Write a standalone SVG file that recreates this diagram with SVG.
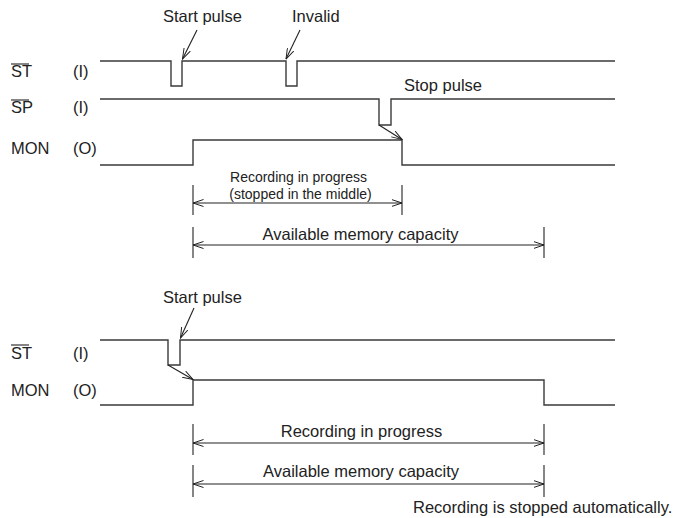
<svg xmlns="http://www.w3.org/2000/svg" width="675" height="518" viewBox="0 0 675 518">
<style>
text{font-family:"Liberation Sans",Arial,sans-serif;font-size:16.5px;fill:#222}
.sm{font-size:14px}
.mid{text-anchor:middle}
.sig{fill:none;stroke:#3a3a3a;stroke-width:1.4}
.ln{fill:none;stroke:#222;stroke-width:1.1}
.dim{fill:none;stroke:#222;stroke-width:1.1;marker-start:url(#ah);marker-end:url(#ah)}
.ptr{fill:none;stroke:#222;stroke-width:1.1;marker-end:url(#ah)}
</style>
<defs>
<marker id="ah" viewBox="0 0 11 8" refX="10.5" refY="4" markerWidth="11" markerHeight="8" markerUnits="userSpaceOnUse" orient="auto-start-reverse">
<path d="M0,0.5 L10.5,4 L0,7.5" fill="none" stroke="#222" stroke-width="1"/>
</marker>
</defs>
<rect width="675" height="518" fill="#fff"/>

<g id="top-labels">
<text x="11" y="77">ST</text><line class="ln" x1="11" y1="64" x2="29" y2="64"/>
<text x="73" y="77">(I)</text>
<text x="11" y="113">SP</text><line class="ln" x1="11" y1="100" x2="29" y2="100"/>
<text x="73" y="113">(I)</text>
<text x="11" y="154">MON</text>
<text x="73" y="154">(O)</text>
</g>

<g id="top-signals">
<path id="st1" class="sig" d="M100,61 H171 V86 H182 V61 H286 V86 H297 V61 H615"/>
<path id="sp1" class="sig" d="M100,99 H379 V125 H391 V99 H615"/>
<path id="mon1" class="sig" d="M100,165 H193 V140 H402 V165 H615"/>
</g>

<g id="top-annotations">
<text x="163" y="22">Start pulse</text>
<text x="292" y="22">Invalid</text>
<text x="404" y="91">Stop pulse</text>
<text class="sm mid" x="298.5" y="182">Recording in progress</text>
<text class="sm mid" x="300.5" y="199">(stopped in the middle)</text>
<text class="mid" x="360.5" y="240">Available memory capacity</text>
</g>

<g id="bottom-labels">
<text x="11" y="359">ST</text><line class="ln" x1="11" y1="345" x2="29" y2="345"/>
<text x="73" y="359">(I)</text>
<text x="11" y="396">MON</text>
<text x="73" y="396">(O)</text>
</g>

<g id="bottom-signals">
<path id="st2" class="sig" d="M100,340 H168 V365 H180 V340 H615"/>
<path id="mon2" class="sig" d="M100,405 H193 V380 H544 V405 H615"/>
</g>

<g id="bottom-annotations">
<text x="163" y="303">Start pulse</text>
<text class="mid" x="361.5" y="437">Recording in progress</text>
<text class="mid" x="361" y="477">Available memory capacity</text>
<text x="413" y="513">Recording is stopped automatically.</text>
</g>

<g id="connectors">
<line class="ptr" x1="197" y1="30" x2="182.5" y2="59"/>
<line class="ptr" x1="300" y1="30" x2="286" y2="59"/>
<line class="ptr" x1="379" y1="125" x2="402" y2="139.5"/>
<line class="dim" x1="193" y1="203" x2="402" y2="203"/>
<line class="ln" x1="193" y1="185" x2="193" y2="215"/>
<line class="ln" x1="402" y1="185" x2="402" y2="215"/>
<line class="dim" x1="193" y1="245" x2="544" y2="245"/>
<line class="ln" x1="193" y1="227" x2="193" y2="258"/>
<line class="ln" x1="544" y1="227" x2="544" y2="258"/>
<line class="ptr" x1="194" y1="308" x2="180.5" y2="338"/>
<line class="ptr" x1="168" y1="365" x2="193" y2="379.5"/>
<line class="dim" x1="193" y1="443" x2="544" y2="443"/>
<line class="ln" x1="193" y1="424" x2="193" y2="455"/>
<line class="ln" x1="544" y1="424" x2="544" y2="455"/>
<line class="dim" x1="193" y1="484" x2="544" y2="484"/>
<line class="ln" x1="193" y1="465" x2="193" y2="497"/>
<line class="ln" x1="544" y1="465" x2="544" y2="497"/>
</g>
</svg>
